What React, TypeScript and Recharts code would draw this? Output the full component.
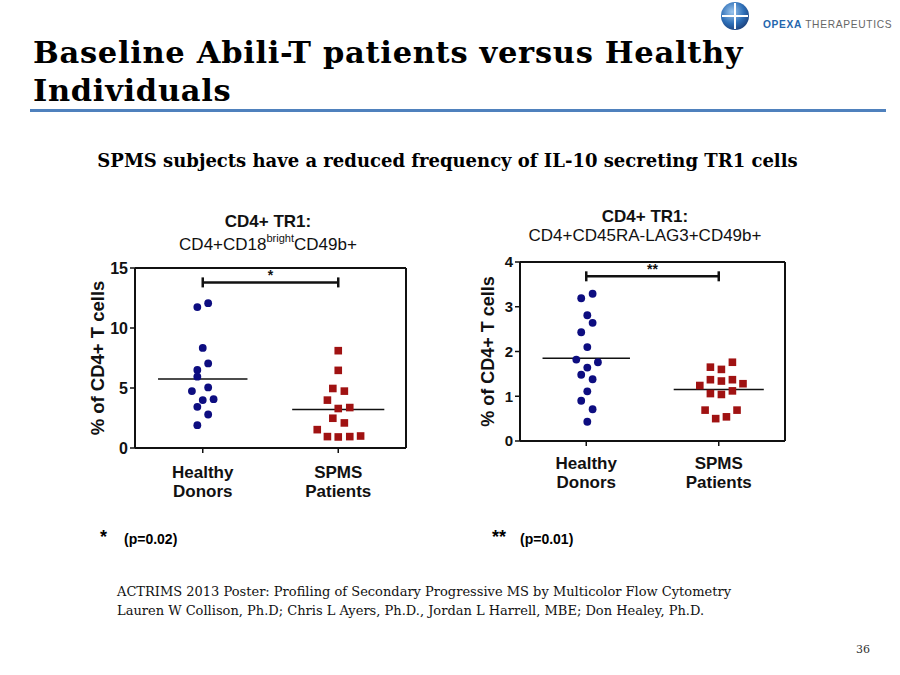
import React from 'react'
import { ScatterChart, Scatter, XAxis, YAxis, ReferenceLine, Label } from 'recharts'

// groups on the x axis (1 = healthy, 2 = SPMS)
const groups = ['Healthy Donors', 'SPMS Patients']
const groupTicks = [1, 2]

// panel A: CD4+CD18bright CD49b+ (% of CD4+ T cells)
const cd18Ticks = [0, 5, 10, 15]
const cd18Healthy = [11.74, 12.07, 8.34, 6.5, 7.05, 5.94, 5.05, 4.74, 3.99, 4.07, 3.43, 2.79, 1.9]
const cd18HealthyJitter = [-0.04, 0.04, 0, -0.04, 0.04, -0.04, 0.04, -0.08, 0, 0.08, -0.04, 0.04, -0.04]
const cd18Spms = [8.11, 6.47, 4.96, 4.74, 3.99, 3.29, 3.37, 2.48, 2.09, 1.53, 0.95, 0.92, 0.95, 1.0]
const cd18SpmsJitter = [0, 0, -0.04, 0.045, -0.08, 0, 0.085, -0.04, 0.045, -0.155, -0.08, 0, 0.085, 0.165]
const cd18Means = [5.74, 3.21]
const cd18Sig = 13.8

// panel B: CD4+CD45RA-LAG3+CD49b+ (% of CD4+ T cells)
const lagTicks = [0, 1, 2, 3, 4]
const lagHealthy = [3.19, 3.29, 2.81, 2.64, 2.43, 2.1, 1.82, 1.64, 1.76, 1.48, 1.38, 1.11, 0.9, 0.71, 0.43]
const lagHealthyJitter = [-0.038, 0.048, 0.008, 0.048, -0.038, 0.008, -0.075, 0.008, 0.088, -0.038, 0.048, 0.008, -0.038, 0.048, 0.008]
const lagSpms = [1.65, 1.6, 1.76, 1.24, 1.37, 1.34, 1.37, 1.28, 1.06, 1.04, 1.12, 0.69, 0.69, 0.5, 0.54]
const lagSpmsJitter = [-0.063, 0.02, 0.103, -0.143, -0.063, 0.02, 0.103, 0.183, -0.063, 0.02, 0.103, -0.103, 0.138, -0.023, 0.058]
const lagMeans = [1.85, 1.15]
const lagSig = 3.68

const SANS = '"Liberation Sans", Arial, sans-serif'
const SERIF = '"DejaVu Serif", Georgia, serif'
const INK = '#111'
const NAVY = '#0d0d80'
const RED = '#a01212'

const toPoints = (vals: number[], jitter: number[], group: number) =>
  vals.map((v, i) => ({ x: group + jitter[i], y: v }))

const Dot = (p: any) => <circle cx={p.cx} cy={p.cy} r={3.9} fill={NAVY} />
const Square = (p: any) => <rect x={p.cx - 3.8} y={p.cy - 3.8} width={7.6} height={7.6} fill={RED} />

const GroupTick = (lift: number) => (p: any) => {
  const words = groups[p.payload.value - 1].split(' ')
  return (
    <text x={p.x} y={p.y + lift} textAnchor="middle" fontFamily={SANS} fontWeight="bold" fontSize={17} fill={INK}>
      <tspan x={p.x}>{words[0]}</tspan>
      <tspan x={p.x} dy={18.5}>{words[1]}</tspan>
    </text>
  )
}

const axisTitle = (dx: number, size: number) => (p: any) => {
  const vb = p.viewBox
  const cx = vb.x + dx
  const cy = vb.y + vb.height / 2
  return (
    <text x={cx} y={cy} transform={`rotate(-90 ${cx} ${cy})`} textAnchor="middle" dominantBaseline="central"
      fontFamily={SANS} fontWeight="bold" fontSize={size} fill={INK}>
      % of CD4+ T cells
    </text>
  )
}

const bracket = (stars: string) => (p: any) => (
  <g>
    <line x1={p.x1} y1={p.y1} x2={p.x2} y2={p.y2} stroke={INK} strokeWidth={2.5} />
    <line x1={p.x1} y1={p.y1 - 5} x2={p.x1} y2={p.y1 + 5} stroke={INK} strokeWidth={2.5} />
    <line x1={p.x2} y1={p.y2 - 5} x2={p.x2} y2={p.y2 + 5} stroke={INK} strokeWidth={2.5} />
    <text x={(p.x1 + p.x2) / 2} y={p.y1 - 2} textAnchor="middle" fontFamily={SANS} fontWeight="bold" fontSize={14} fill={INK}>
      {stars}
    </text>
  </g>
)

interface PanelProps {
  width: number
  height: number
  margin: { top: number; right: number; bottom: number; left: number }
  yWidth: number
  ticks: number[]
  healthy: { x: number; y: number }[]
  spms: { x: number; y: number }[]
  means: number[]
  sig: number
  stars: string
  titleDx: number
  titleSize: number
  tickSize: number
  tickLift: number
}

function DotPanel(props: PanelProps) {
  const { ticks, means, sig } = props
  const yMax = ticks[ticks.length - 1]
  return (
    <ScatterChart width={props.width} height={props.height} margin={props.margin}>
      <XAxis type="number" dataKey="x" domain={[0.5, 2.5]} ticks={groupTicks} allowDataOverflow
        axisLine={{ stroke: INK, strokeWidth: 2 }} tickLine={{ stroke: INK, strokeWidth: 1.5 }}
        tickSize={5} tickMargin={2} height={50} interval={0} tick={GroupTick(props.tickLift)} />
      <YAxis type="number" dataKey="y" domain={[0, yMax]} ticks={ticks} width={props.yWidth}
        axisLine={{ stroke: INK, strokeWidth: 2 }} tickLine={{ stroke: INK, strokeWidth: 1.5 }}
        tickSize={5} tickMargin={2}
        tick={{ fill: INK, fontFamily: SANS, fontWeight: 'bold', fontSize: props.tickSize }}>
        <Label content={axisTitle(props.titleDx, props.titleSize)} />
      </YAxis>
      <ReferenceLine y={yMax} stroke={INK} strokeWidth={2} />
      <ReferenceLine x={2.5} stroke={INK} strokeWidth={2} />
      <ReferenceLine segment={[{ x: 0.67, y: means[0] }, { x: 1.33, y: means[0] }]} stroke={INK} strokeWidth={1.5} />
      <ReferenceLine segment={[{ x: 1.66, y: means[1] }, { x: 2.34, y: means[1] }]} stroke={INK} strokeWidth={1.5} />
      <ReferenceLine segment={[{ x: 1, y: sig }, { x: 2, y: sig }]} shape={bracket(props.stars)} />
      <Scatter data={props.healthy} shape={Dot} isAnimationActive={false} />
      <Scatter data={props.spms} shape={Square} isAnimationActive={false} />
    </ScatterChart>
  )
}

const abs = (left: number, top: number, extra: React.CSSProperties = {}): React.CSSProperties => ({
  position: 'absolute', left, top, ...extra,
})

function Logo() {
  return (
    <div style={abs(712, 0, { width: 188, height: 36 })}>
      <svg width={188} height={36}>
        <defs>
          <radialGradient id="orb" cx="40%" cy="35%" r="70%">
            <stop offset="0%" stopColor="#9cc6ee" />
            <stop offset="60%" stopColor="#2e6fb7" />
            <stop offset="100%" stopColor="#1b3f7a" />
          </radialGradient>
        </defs>
        <circle cx={23} cy={16} r={14} fill="url(#orb)" />
        <line x1={23} y1={3} x2={23} y2={29} stroke="#fff" strokeWidth={2} />
        <line x1={10} y1={16} x2={36} y2={16} stroke="#fff" strokeWidth={2} />
        <text x={51} y={28} fontFamily={SANS} fontSize={10.2} letterSpacing={0.7}>
          <tspan fill="#2466ad" fontWeight="bold">OPEXA</tspan>
          <tspan fill="#666" dx={3}>THERAPEUTICS</tspan>
        </text>
      </svg>
    </div>
  )
}

export default function App() {
  return (
    <div style={{ position: 'absolute', left: 0, top: 0, width: 900, height: 675, background: '#fff', overflow: 'hidden', color: '#000' }}>
      <Logo />
      <div style={abs(33, 33, { fontFamily: SERIF, fontWeight: 'bold', fontSize: 30.5, letterSpacing: 0.7, lineHeight: '38px', width: 800 })}>
        Baseline Abili-T patients versus Healthy<br />Individuals
      </div>
      <div style={abs(30, 109, { width: 856, height: 3, background: '#4f81bd' })} />
      <div style={abs(0, 150, { width: 895, textAlign: 'center', fontFamily: SERIF, fontWeight: 'bold', fontSize: 18 })}>
        SPMS subjects have a reduced frequency of IL-10 secreting TR1 cells
      </div>

      <div style={abs(118, 210, { width: 300, textAlign: 'center', fontFamily: SANS, fontSize: 17, lineHeight: '23px', color: INK })}>
        <div style={{ fontWeight: 'bold' }}>CD4+ TR1:</div>
        <div>CD4+CD18<sup style={{ fontSize: 11, verticalAlign: 'top', position: 'relative', top: -6 }}>bright</sup>CD49b+</div>
      </div>
      <div style={abs(495, 207, { width: 300, textAlign: 'center', fontFamily: SANS, fontSize: 17, lineHeight: '19px', color: INK })}>
        <div style={{ fontWeight: 'bold' }}>CD4+ TR1:</div>
        <div>CD4+CD45RA-LAG3+CD49b+</div>
      </div>

      <div style={abs(60, 250)}>
        <DotPanel width={360} height={260} margin={{ top: 18, right: 14, bottom: 12, left: 15 }} yWidth={60}
          ticks={cd18Ticks} healthy={toPoints(cd18Healthy, cd18HealthyJitter, 1)} spms={toPoints(cd18Spms, cd18SpmsJitter, 2)}
          means={cd18Means} sig={cd18Sig} stars="*" titleDx={22} titleSize={18.5} tickSize={16} tickLift={23} />
      </div>
      <div style={abs(450, 245)}>
        <DotPanel width={350} height={260} margin={{ top: 17, right: 15, bottom: 14, left: 20 }} yWidth={50}
          ticks={lagTicks} healthy={toPoints(lagHealthy, lagHealthyJitter, 1)} spms={toPoints(lagSpms, lagSpmsJitter, 2)}
          means={lagMeans} sig={lagSig} stars="**" titleDx={18} titleSize={18} tickSize={15} tickLift={21} />
      </div>

      <div style={abs(100, 527, { fontFamily: SANS, fontWeight: 'bold', fontSize: 18 })}>*</div>
      <div style={abs(124, 531, { fontFamily: SANS, fontWeight: 'bold', fontSize: 14 })}>(p=0.02)</div>
      <div style={abs(492, 527, { fontFamily: SANS, fontWeight: 'bold', fontSize: 18 })}>**</div>
      <div style={abs(520, 531, { fontFamily: SANS, fontWeight: 'bold', fontSize: 14 })}>(p=0.01)</div>

      <div style={abs(117, 582, { fontFamily: SERIF, fontSize: 13, lineHeight: '19px', color: '#111' })}>
        ACTRIMS 2013 Poster: Profiling of Secondary Progressive MS by Multicolor Flow Cytometry<br />
        Lauren W Collison, Ph.D; Chris L Ayers, Ph.D., Jordan L Harrell, MBE; Don Healey, Ph.D.
      </div>
      <div style={abs(856, 643, { fontFamily: SERIF, fontSize: 11, color: '#333' })}>36</div>
    </div>
  )
}
